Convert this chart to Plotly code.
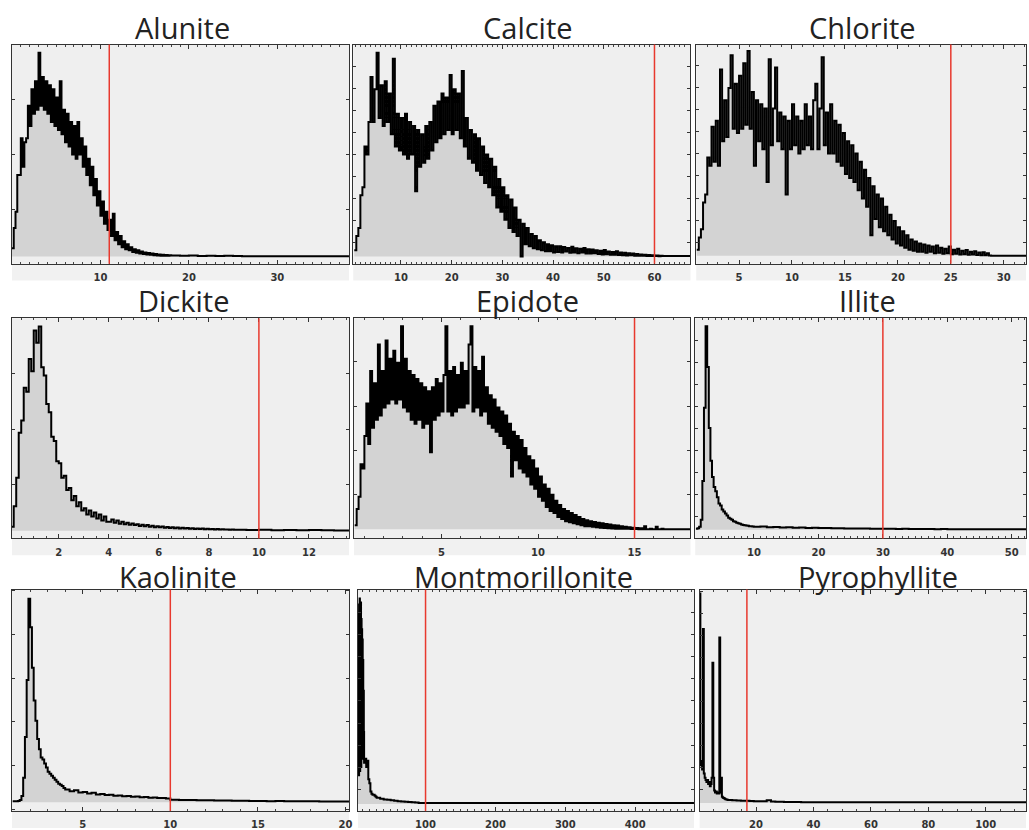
import plotly.graph_objects as go

# ---------------- data ----------------
titles = ["Alunite", "Calcite", "Chlorite", "Dickite", "Epidote", "Illite",
          "Kaolinite", "Montmorillonite", "Pyrophyllite"]
red_lines = [11, 60, 25, 10, 15, 30, 10, 100, 16.8]
x_ranges = [[0.0, 38.1], [0.6, 67.1], [0.96, 32.1], [0.13, 13.6], [0.46, 17.9],
            [0.9, 52.2], [0.96, 20.2], [3.3, 484], [0.35, 114]]
x_ticks = [[10, 20, 30], [10, 20, 30, 40, 50, 60], [5, 10, 15, 20, 25, 30],
           [2, 4, 6, 8, 10, 12], [5, 10, 15], [10, 20, 30, 40, 50],
           [5, 10, 15, 20], [100, 200, 300, 400], [20, 40, 60, 80, 100]]
x_minor = [1, 1, 1, 0.5, 1, 1, 1, 10, 5]

# histograms: first bin edge, then consecutive runs of (bin width, relative counts)
alunite_start = 0.0
alunite_counts = [4, 14, 22, 40, 40, 58, 44, 56, 58, 74, 64, 82, 70, 86, 72, 100, 74, 88, 72, 86,
                  70, 84, 66, 82, 64, 78, 62, 86, 60, 72, 56, 70, 54, 66, 50, 64, 48, 66, 50, 58,
                  44, 54, 40, 48, 35, 44, 30, 38, 25, 32, 20, 27, 16, 22, 13, 18, 10, 21, 8, 12,
                  6, 10, 4.5, 7.5, 3.5, 6, 3, 4.5, 2.2, 3.6, 1.8, 3, 1.5, 2.4, 1.2, 2, 1, 1.7,
                  0.8, 1.4, 0.6, 1.2, 0.5, 1.0, 0.4, 0.8, 0.3, 0.7, 0.3, 0.6]
alunite_tail = [0.5, 0.3, 0.5, 0.2, 0.4, 0.2, 0.3, 0.2, 0.15]

calcite_start = 0.8
calcite_counts = [3, 10, 14, 30, 34, 54, 50, 66, 88, 66, 82, 100, 68, 84, 64, 86, 66, 80, 60, 97,
                  54, 70, 52, 68, 50, 70, 48, 66, 50, 64, 32, 62, 44, 60, 46, 64, 48, 66, 52, 74,
                  56, 76, 58, 80, 60, 78, 62, 89, 60, 82, 62, 80, 58, 91, 54, 68, 48, 62, 46, 60,
                  42, 58, 40, 54, 36, 50, 34, 48, 30, 44, 24, 38, 22, 34, 18, 30, 14, 28, 12, 24,
                  10, 18, 0, 16, 6, 14, 5, 11, 4, 10, 3.5, 8, 3, 7, 2.5, 6, 2.5, 5.5, 2, 5]
calcite_tail = [2.2, 5, 2, 4.6, 2.4, 4.2, 1.8, 4.8, 2, 4, 1.6, 3.8, 2, 4.2, 1.5, 3.6, 1.4, 3.4,
                1.6, 3, 1.2, 2.8, 1, 3.2, 1.1, 2.4, 0.9, 2.2, 0.8, 2.6, 0.7, 2, 0.6, 1.8, 0.5,
                1.6, 0.6, 1.4, 0.4, 1.2, 0.3, 1.0, 0.3, 0.9, 0.2, 0.7, 0.2, 0.6, 0.2, 0.5, 0.1,
                0.4, 0.2]

chlorite_start = 1.0
chlorite_counts = [3, 9, 13, 26, 30, 48, 44, 63, 46, 66, 44, 91, 56, 76, 58, 82, 98, 62, 84, 60,
                   88, 62, 94, 64, 100, 62, 80, 44, 76, 56, 74, 52, 72, 36, 96, 54, 72, 92, 56, 70,
                   52, 68, 30, 66, 52, 74, 54, 68, 50, 66, 52, 74, 54, 68, 52, 76, 84, 52, 72, 97,
                   54, 70, 50, 74, 50, 66, 46, 64, 44, 60, 40, 56, 38, 54, 36, 50, 32, 46, 28, 42,
                   24, 38, 10, 34, 18, 30, 14, 28, 12, 24, 10, 20, 8, 17, 6, 14, 5, 12, 4, 10,
                   3, 8, 2.5, 7, 2]
chlorite_tail = [6, 2, 5.5, 1.5, 5, 2, 4.5, 1.2, 5, 1.5, 4, 1, 3.5, 1.2, 4.5, 0.8, 3, 1, 3.5,
                 0.6, 2.5, 0.8, 2.8, 0.5, 2, 0.6, 2.2, 0.4, 1.6, 0.3, 1.8, 0.3, 1.2, 0.2, 0]

dickite_start = 0.1
dickite_counts = [2, 12, 26, 48, 54, 70, 68, 84, 78,
                  98, 92, 100, 80, 76, 62, 58, 46, 44, 34,
                  33, 26, 27, 20, 21, 15, 17, 12, 14, 10,
                  11, 8, 10, 7, 9, 6, 8, 5, 7, 4.5,
                  4.5, 5.5, 4, 5, 3.5, 4.5, 3.2, 4, 3, 3.6,
                  2.8, 3.2, 2.4, 3, 2.2, 2.8, 2, 2.5, 1.8, 2.2,
                  1.7, 2.1, 1.5, 1.9, 1.4, 1.7, 1.3, 1.6, 1.2, 1.5,
                  1.1, 1.4, 1.0, 1.3, 0.9, 1.2, 0.9, 1.1, 0.8, 1.0,
                  0.8, 0.9, 0.7, 0.9, 0.6, 0.8, 0.6, 0.7, 0.5, 0.6]
dickite_tail = [0.5, 0.4, 0.5, 0.3, 0.4, 0.3, 0.4, 0.3, 0.2, 0.2]

epidote_start = 0.5
epidote_counts = [2, 10, 16, 32, 30, 46, 62, 42, 78, 50, 72, 54, 91, 56, 78, 60, 93, 62, 84, 64,
                  88, 62, 82, 64, 100, 60, 84, 58, 78, 54, 76, 52, 74, 54, 72, 50, 70, 52, 68, 38,
                  70, 54, 74, 56, 72, 58, 76, 100, 58, 78, 56, 80, 58, 76, 60, 82, 60, 78, 62, 91,
                  100, 58, 80, 60, 78, 56, 85, 58, 70, 52, 66, 50, 64, 48, 60, 46, 58, 42, 56, 40,
                  52, 26, 48, 34, 46, 30, 44, 28, 40, 26, 36, 22, 34, 20, 30, 16, 26, 14, 22, 11,
                  20, 9, 17, 8, 14, 6, 12, 5, 10, 4, 9, 3.5, 8, 3, 7, 2.5, 6, 2, 5, 1.5]
epidote_tail = [4.5, 1.5, 4, 1.2, 3.6, 1, 3.2, 0.8, 3, 0.6, 2.6, 0.5, 2.4, 0.4, 2, 0.3, 1.8,
                0.3, 1.5, 0.2, 1.2, 0.2, 1, 0.1, 0.8, 0.1, 0.6, 0, 0.5, 0, 1.5, 0, 0, 0.3, 0,
                0, 1.2, 0, 0, 0.3, 0]

illite_start = 1.0
illite_counts = [0.5, 0.8, 1.5, 5, 24, 60, 100, 80, 50, 34, 26, 21, 19, 16, 13, 12, 10, 9,
                 8, 7, 6, 5.5, 5, 4.2, 4, 3.5, 3.2, 3, 2.6, 2.4, 2.2, 2.1, 2, 1.8, 1.8, 1.6]
illite_tail = [1.5, 1.6, 1.3, 1.4, 1.2, 1.25, 1.05, 1.1, 0.95, 1.0,
               0.85, 0.9, 0.75, 0.8, 0.7, 0.72, 0.62, 0.65, 0.55, 0.6,
               0.5, 0.52, 0.45, 0.48, 0.4, 0.42, 0.38, 0.4, 0.35, 0.36,
               0.32, 0.33, 0.3, 0.31, 0.28, 0.3, 0.26, 0.28, 0.25, 0.26, 0.24, 0.25]

kaolinite_start = 1.0
kaolinite_counts = [0.4, 0.5, 0.5, 0.6, 1, 3, 12, 32, 60, 100, 86, 66, 50, 40, 31,
                    26, 22, 21, 19, 17, 15, 14, 13, 12, 11, 10, 9, 8.5, 8, 7]
kaolinite_mid = [6.2, 5.4, 5.8, 4.8, 5.0, 4.3, 4.6, 3.8, 4.0, 3.5, 3.7, 3.1,
                 3.3, 2.9, 3.0, 2.6, 2.8, 2.4, 2.5, 2.2, 2.3, 2.0, 2.1, 1.8]
kaolinite_tail = [1.2, 1.0, 1.1, 0.9, 0.9, 0.8, 0.8, 0.7, 0.7, 0.6, 0.6,
                  0.5, 0.55, 0.45, 0.5, 0.4, 0.4, 0.35, 0.35, 0.3, 0.3]

montmorillonite_start = 3.3
montmorillonite_counts = [93, 20, 88, 14, 97, 25, 100, 16, 95, 30, 98,
                          18, 90, 35, 85, 22, 80, 40, 70, 30, 55, 35]
montmorillonite_mid = [20, 22, 18, 21, 12, 10, 6, 5, 4.5, 4.5, 4, 3.5]
montmorillonite_tail = [3, 2.5, 2.2, 2, 1.8, 1.5, 1.3, 1.2, 1, 0.9, 0.8, 0.7, 0.5]

pyrophyllite_start = 0.3
pyrophyllite_counts = [100, 18, 20, 16, 83, 14, 12, 11, 10, 11, 9, 10, 8, 9, 12, 67, 12,
                       6, 5, 5.5, 4.5, 5, 4.5, 79, 5, 12, 3, 2.5, 2.4, 2, 1.8, 1.6, 1.5]
pyrophyllite_tail = [1.4, 1.3, 1.2, 1.1, 1.0, 0.9, 0.8, 0.8, 0.8, 1.3, 0.7, 0.6,
                     0.6, 0.5, 0.5, 0.5, 0.4, 0.3]

histograms = [
    (alunite_start, [(0.2, alunite_counts), (1.0, alunite_tail)]),
    (calcite_start, [(0.4, calcite_counts), (0.4, calcite_tail)]),
    (chlorite_start, [(0.2, chlorite_counts), (0.2, chlorite_tail)]),
    (dickite_start, [(0.1, dickite_counts), (0.5, dickite_tail)]),
    (epidote_start, [(0.1, epidote_counts), (0.1, epidote_tail)]),
    (illite_start, [(0.25, illite_counts), (1.0, illite_tail)]),
    (kaolinite_start, [(0.1, kaolinite_counts), (0.25, kaolinite_mid), (0.5, kaolinite_tail)]),
    (montmorillonite_start, [(0.4, montmorillonite_counts), (1.5, montmorillonite_mid),
                             (5.0, montmorillonite_tail)]),
    (pyrophyllite_start, [(0.3, pyrophyllite_counts), (1.5, pyrophyllite_tail)]),
]

# y tick layout (tick0, dtick) and y range per panel
y_ticks = [(-4, 27), (6.9, 10.8), (6.6, 10.8), (-4.4, 27.1), (17.1, 21.8),
           (6.8, 10.8), (17.9, 21.5), (6.9, 10.8), (6.6, 10.5)]
y_ranges = [[-3.6, 104], [-3.6, 104], [-3.9, 103.2], [-3.7, 104], [-4.5, 104],
            [-4.2, 104], [-4.4, 104.5], [-3.5, 104.3], [-3.9, 101.9]]

# ---------------- layout geometry (pixels) ----------------
W, H = 1029, 830
boxes = [  # left, right, top, bottom
    (12, 350, 45, 266.7), (354.3, 692.5, 45, 266.7), (698.3, 1029, 45, 266.7),
    (12, 350, 321.7, 544.3), (355, 692.5, 321.7, 544.3), (697.3, 1029, 321.7, 544.3),
    (12, 350, 596, 820), (359, 696, 596, 820), (701.7, 1029, 596, 820),
]
title_pos = [(183.5, 28), (530, 28), (865, 28), (184, 304), (529, 304), (870, 304),
             (179, 583), (525, 583), (881, 583)]


def build(start, runs, x_end):
    xs, ys = [], []
    edge = start
    for width, counts in runs:
        for c in counts:
            xs.append(edge)
            ys.append(c)
            edge += width
    xs.append(max(x_end, edge))
    ys.append(ys[-1])
    return xs, ys


fig = go.Figure()
shapes = []
annotations = []
layout_axes = {}
for i in range(9):
    n = i + 1
    xa = "x" if n == 1 else f"x{n}"
    ya = "y" if n == 1 else f"y{n}"
    l, r, t, b = boxes[i]
    start, runs = histograms[i]
    xs, ys = build(start, runs, x_ranges[i][1])
    fig.add_trace(go.Scatter(
        x=xs, y=ys, mode="lines", xaxis=xa, yaxis=ya,
        line=dict(shape="hv", color="black", width=2.0),
        fill="tozeroy", fillcolor="#d3d3d3", showlegend=False, hoverinfo="skip"))
    shapes.append(dict(type="line", xref=xa, yref=f"{ya} domain",
                       x0=red_lines[i], x1=red_lines[i], y0=0, y1=1,
                       line=dict(color="#e8392e", width=1.5), layer="above"))
    # light strip behind tick labels
    shapes.append(dict(type="rect", xref="paper", yref="paper",
                       x0=l / W, x1=r / W, y0=1 - (b + 17) / H, y1=1 - b / H,
                       fillcolor="#f1f1f1", line=dict(width=0), layer="below"))
    annotations.append(dict(text=titles[i], x=title_pos[i][0] / W, y=1 - title_pos[i][1] / H,
                            xref="paper", yref="paper", xanchor="center", yanchor="middle",
                            showarrow=False,
                            font=dict(family="Open Sans", size=29, color="#222222")))
    xname = "xaxis" if n == 1 else f"xaxis{n}"
    yname = "yaxis" if n == 1 else f"yaxis{n}"
    layout_axes[xname] = dict(
        domain=[l / W, min(r / W, 1.0)], anchor=ya, range=x_ranges[i],
        tickmode="array", tickvals=x_ticks[i], ticks="inside", ticklen=4, tickwidth=1,
        tickcolor="#333333", showline=True, linecolor="#333333", linewidth=1.3,
        mirror="ticks", showgrid=False, zeroline=False,
        minor=dict(tickmode="linear", tick0=0, dtick=x_minor[i], ticks="inside",
                   ticklen=2, tickcolor="#444444", showgrid=False),
        tickfont=dict(family="DejaVu Sans", size=10, color="#333333", weight="bold"),
        ticklabelstandoff=4)
    layout_axes[yname] = dict(
        domain=[1 - b / H, 1 - t / H], anchor=xa, range=y_ranges[i],
        tickmode="linear", tick0=y_ticks[i][0], dtick=y_ticks[i][1],
        ticks="inside", ticklen=3, tickcolor="#333333", showticklabels=False,
        showline=True, linecolor="#333333", linewidth=1.3, mirror="ticks",
        showgrid=False, zeroline=False)

fig.update_layout(
    width=W, height=H, margin=dict(l=0, r=0, t=0, b=0),
    paper_bgcolor="white", plot_bgcolor="#efefef",
    shapes=shapes, annotations=annotations, **layout_axes)

fig.write_html("out.html")
